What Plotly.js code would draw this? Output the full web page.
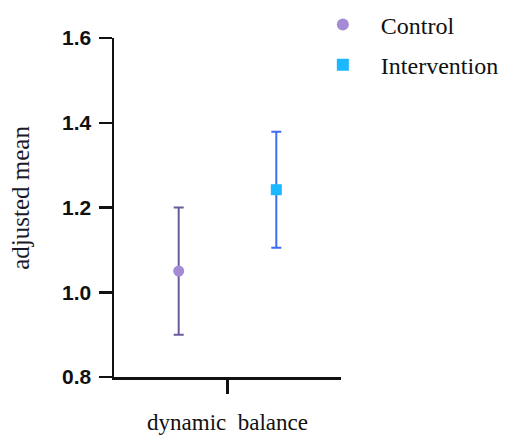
<!DOCTYPE html>
<html>
<head>
<meta charset="utf-8">
<script src="https://cdn.plot.ly/plotly-3.0.1.min.js"></script>
<style>html,body{margin:0;padding:0;background:#fff;}#chart{width:507px;height:437px;}</style>
</head>
<body>
<div id="chart"></div>
<script>
const categories = ["dynamic  balance"];
const groups = ["Control", "Intervention"];
const controlMean = [1.05];
const controlErr = [0.15];
const interventionMean = [1.242];
const interventionErr = [0.137];
const yTicks = [0.8, 1.0, 1.2, 1.4, 1.6];
const yTickLabels = ["0.8", "1.0", "1.2", "1.4", "1.6"];

const pad = "\u00A0\u00A0\u00A0";
const traces = [
  {
    type: "scatter", mode: "markers", name: pad + groups[0], legendgroup: "a",
    x: categories, y: controlMean, offsetgroup: "a",
    marker: {symbol: "circle", size: 11, color: "#A58AD6"},
    error_y: {type: "data", array: controlErr, visible: true, color: "#6B5A9C", thickness: 2, width: 5}
  },
  {
    type: "scatter", mode: "markers", name: pad + groups[1], legendgroup: "b",
    x: categories, y: interventionMean, offsetgroup: "b",
    marker: {symbol: "square", size: 11, color: "#1BB8FF"},
    error_y: {type: "data", array: interventionErr, visible: true, color: "#3D6CF2", thickness: 2, width: 5}
  }
];

const layout = {
  width: 507, height: 437,
  margin: {l: 114, r: 166, t: 38, b: 60, autoexpand: false},
  paper_bgcolor: "#fff", plot_bgcolor: "#fff",
  scattermode: "group", scattergap: 0.14,
  showlegend: true,
  legend: {
    x: 0.92, y: 1.105, xanchor: "left", yanchor: "top",
    font: {family: "Liberation Serif", size: 24, color: "#111"},
    itemsizing: "constant", traceorder: "grouped", tracegroupgap: 6,
    bgcolor: "rgba(0,0,0,0)"
  },
  xaxis: {
    type: "category", range: [-0.5, 0.5],
    showline: true, linecolor: "#111", linewidth: 2.5,
    ticks: "outside", ticklen: 14, tickwidth: 2.5, tickcolor: "#111",
    showgrid: false, zeroline: false, fixedrange: true,
    tickfont: {family: "Liberation Serif", size: 23, color: "#111"},
    ticklabelstandoff: 9
  },
  yaxis: {
    range: [0.8, 1.6], tickvals: yTicks, ticktext: yTickLabels,
    showline: true, linecolor: "#111", linewidth: 2.5,
    ticks: "outside", ticklen: 13, tickwidth: 2.5, tickcolor: "#111",
    showgrid: false, zeroline: false,
    tickfont: {family: "Liberation Sans", size: 21, color: "#111", weight: "bold"},
    ticklabelstandoff: 3
  },
  annotations: [{
    text: "adjusted mean", xref: "paper", yref: "paper",
    x: -0.415, y: 0.528, xanchor: "center", yanchor: "middle",
    textangle: -90, showarrow: false,
    font: {family: "Liberation Serif", size: 25, color: "#1a1a2a"}
  }]
};

Plotly.newPlot("chart", traces, layout, {displayModeBar: false, staticPlot: true});
</script>
</body>
</html>
